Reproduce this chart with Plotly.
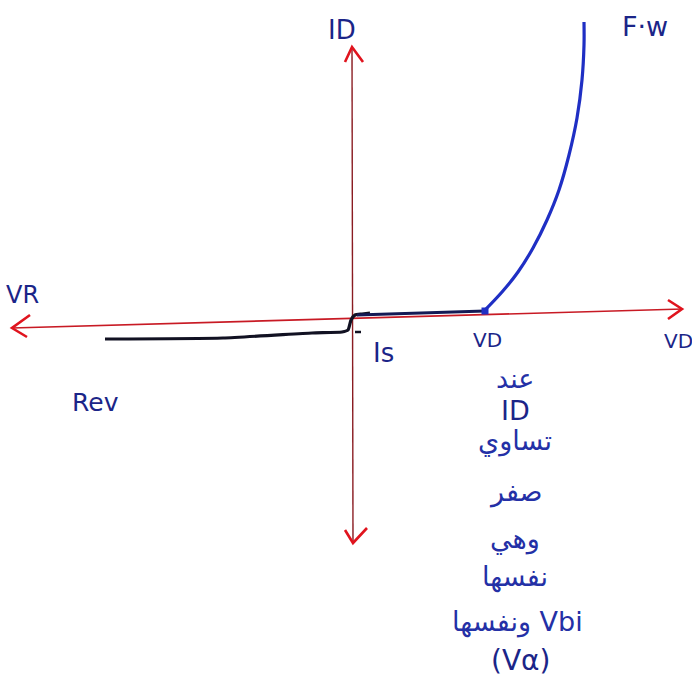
import plotly.graph_objects as go

# Sketch coordinates: origin at the axes crossing, x to the right, y upward.
# Diode I-V characteristic: reverse branch, saturation step, forward branch.
rev_v = [-247, -129, -40, -10, -4, -1, 3, 10, 18]
rev_i = [-22, -21, -16, -15, -13, -3, 2, 3, 4]

flat_v = [5, 60, 133]
flat_i = [2, 4, 6]

fwd_v = [133, 150, 166, 181, 195, 207, 217, 225, 230, 232, 232]
fwd_i = [7, 25, 45, 69, 97, 127, 162, 199, 237, 272, 295]

knee_v = [133]
knee_i = [6]

# Axes drawn as arrows (slightly tilted horizontal axis)
h_axis_x = [-340, 331]
h_axis_y = [-11, 8]
v_axis_x = [0, 1]
v_axis_y = [270, -226]

# Open V arrowheads: arm, tip, arm
arrow_left_x = [-322, -340, -325]
arrow_left_y = [2, -11, -20]
arrow_right_x = [316, 330, 316]
arrow_right_y = [17, 8, -2]
arrow_top_x = [-7, 0, 11]
arrow_top_y = [255, 270, 255]
arrow_bot_x = [-7, 1, 15]
arrow_bot_y = [-213, -226, -211]

ink = "#1b2588"
ink_ar = "#2430a6"
red = "#e0141e"

fig = go.Figure()

def line(x, y, color, width):
    fig.add_trace(go.Scatter(x=x, y=y, mode="lines",
                             line=dict(color=color, width=width),
                             hoverinfo="skip", showlegend=False))

line(h_axis_x, h_axis_y, "#c81a24", 1.6)
line(v_axis_x, v_axis_y, "#8a1c22", 1.4)
for ax, ay in [(arrow_left_x, arrow_left_y), (arrow_right_x, arrow_right_y),
               (arrow_top_x, arrow_top_y), (arrow_bot_x, arrow_bot_y)]:
    fig.add_trace(go.Scatter(x=ax, y=ay, mode="lines",
                             line=dict(color=red, width=2.6),
                             hoverinfo="skip", showlegend=False))

fig.add_trace(go.Scatter(x=rev_v, y=rev_i, mode="lines",
                         line=dict(color="#111122", width=3.2, shape="spline",
                                   smoothing=0.5),
                         hoverinfo="skip", showlegend=False))
fig.add_trace(go.Scatter(x=flat_v, y=flat_i, mode="lines",
                         line=dict(color="#141a55", width=3.2),
                         hoverinfo="skip", showlegend=False))
fig.add_trace(go.Scatter(x=fwd_v, y=fwd_i, mode="lines",
                         line=dict(color="#1f2fc4", width=3.2, shape="spline",
                                   smoothing=1.0),
                         hoverinfo="skip", showlegend=False))
fig.add_trace(go.Scatter(x=knee_v, y=knee_i, mode="markers",
                         marker=dict(color="#1f2fc4", size=7, symbol="square"),
                         hoverinfo="skip", showlegend=False))
# small tick below the origin
fig.add_trace(go.Scatter(x=[3, 9], y=[-15, -15], mode="lines",
                         line=dict(color="#111122", width=2.5),
                         hoverinfo="skip", showlegend=False))

font_main = "DejaVu Sans"
labels = [
    ("ID", -10, 287, 26, ink),
    ("F·w", 293, 291, 27, ink),
    ("VR", -330, 22, 24, ink),
    ("Is", 31, -36, 26, ink),
    ("VD", 135, -23, 20, ink),
    ("VD", 326, -24, 20, ink),
    ("Rev", -257, -85, 25, ink),
    ("عند", 163, -61, 27, ink_ar),
    ("ID", 163, -93, 27, ink),
    ("تساوي", 163, -124, 27, ink_ar),
    ("صفر", 163, -175, 27, ink_ar),
    ("وهي", 163, -222, 27, ink_ar),
    ("نفسها", 163, -260, 27, ink_ar),
    ("ونفسها Vbi", 165, -305, 27, ink_ar),
    ("(Vα)", 168, -343, 28, ink),
]
for text, x, y, size, color in labels:
    fig.add_annotation(x=x, y=y, text=text, showarrow=False,
                       font=dict(family=font_main, size=size, color=color),
                       xanchor="center", yanchor="middle")

fig.update_layout(
    width=692, height=686,
    margin=dict(l=0, r=0, t=0, b=0),
    paper_bgcolor="white", plot_bgcolor="white",
    xaxis=dict(range=[-352, 340], visible=False, fixedrange=True),
    yaxis=dict(range=[-369, 317], visible=False, fixedrange=True),
)

fig.write_html("out.html")
